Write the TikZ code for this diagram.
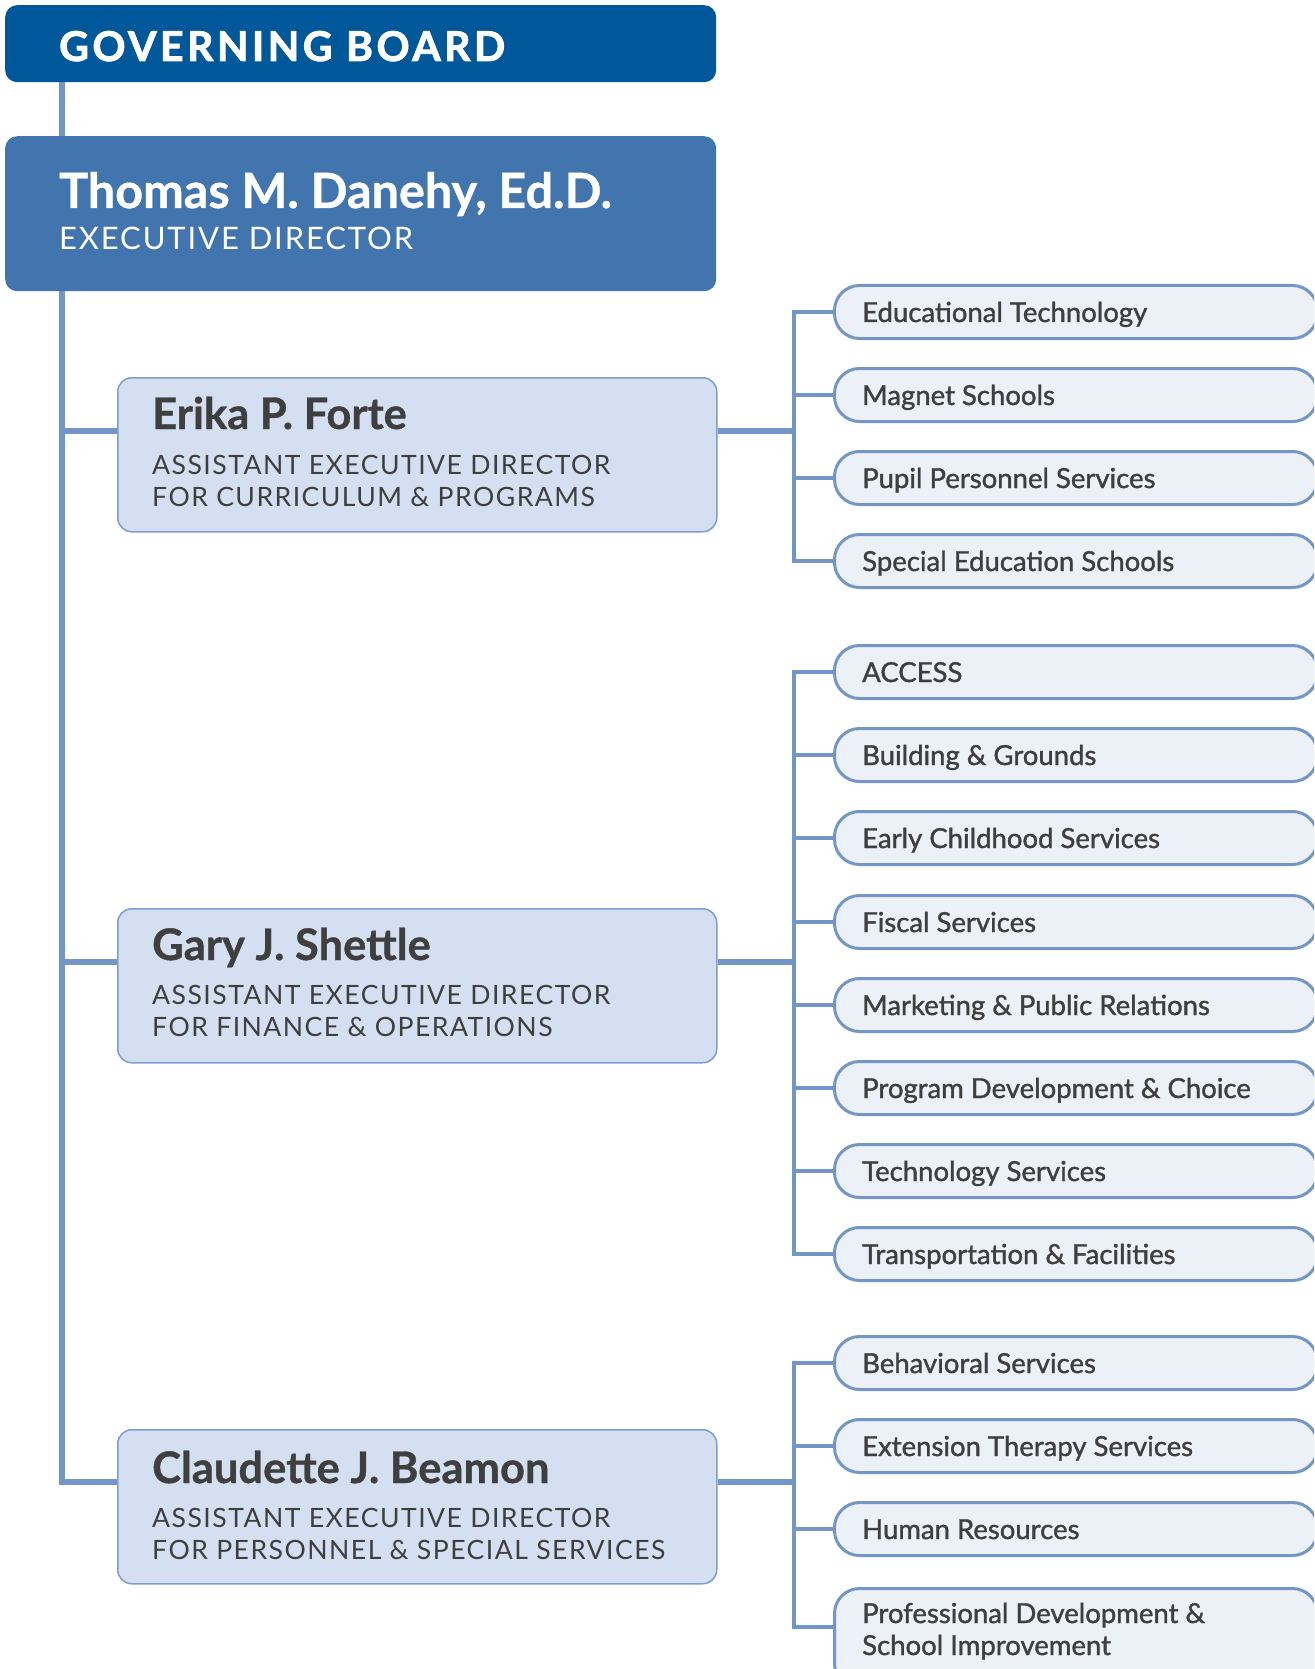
\documentclass[tikz,border=0pt]{standalone}
\usepackage{fontspec}
\setmainfont{Lato}
\newfontfamily\capsfont[LetterSpace=6]{Lato}
\newfontfamily\subfont[LetterSpace=5.5]{Lato}
\newfontfamily\semifont[FakeBold=1.3]{Lato}
\newfontfamily\heavyfont[BoldFeatures={FakeBold=0.8}]{Lato}
\newfontfamily\heavycaps[LetterSpace=8.5, BoldFeatures={FakeBold=2, LetterSpace=8.5}]{Lato}
\usetikzlibrary{backgrounds}
\definecolor{gbblue}{HTML}{00579A}
\definecolor{execblue}{HTML}{4275AD}
\definecolor{linec}{HTML}{7396C7}
\definecolor{namefill}{HTML}{D4E0F1}
\definecolor{nameborder}{HTML}{7E9DCC}
\definecolor{childfill}{HTML}{ECF1F8}
\definecolor{childborder}{HTML}{7396C7}
\definecolor{textdark}{HTML}{3F3F3F}
\tikzset{
  topbox/.style={rectangle, rounded corners=12pt, inner sep=0pt, anchor=north west},
  namebox/.style={rectangle, rounded corners=14pt, draw=nameborder, line width=1.5pt, fill=namefill, inner sep=0pt, anchor=north west, minimum width=599pt, minimum height=154pt},
  childbox/.style={rectangle, rounded corners=25pt, draw=childborder, line width=3pt, fill=childfill, inner sep=0pt, anchor=west, minimum width=483pt, minimum height=53pt},
  childtext/.style={anchor=base west, inner sep=0pt, text=textdark, font=\semifont\fontsize{27.5}{32}\selectfont},
  nametext/.style={anchor=base west, inner sep=0pt, text=textdark, font=\heavyfont\bfseries\fontsize{43.5}{50}\selectfont},
  subtext/.style={anchor=base west, inner sep=0pt, text=textdark, font=\subfont\fontsize{26.6}{32}\selectfont},
  trunk/.style={draw=linec, line width=5.5pt},
  branch/.style={draw=linec, line width=4.5pt},
}
\begin{document}
\begin{tikzpicture}[x=1pt,y=-1pt]
\useasboundingbox (0,0) rectangle (1314,1669);
\clip (0,0) rectangle (1314,1669);
% top boxes
\node[topbox, fill=gbblue, minimum width=711pt, minimum height=77pt] (gb) at (5,5) {};
\node[anchor=base west, inner sep=0pt, text=white, font=\heavycaps\bfseries\fontsize{41}{48}\selectfont] (gbt) at (59,61) {GOVERNING BOARD};
\node[topbox, fill=execblue, minimum width=711pt, minimum height=155pt] (exec) at (5,136) {};
\node[anchor=base west, inner sep=0pt, text=white, font=\heavyfont\bfseries\fontsize{48.5}{54}\selectfont] (execname) at (59,208) {Thomas M. Danehy, Ed.D.};
\node[anchor=base west, inner sep=0pt, text=white, font=\capsfont\fontsize{31}{36}\selectfont] (exectitle) at (59,250) {EXECUTIVE DIRECTOR};
% name boxes
\node[namebox] (erika) at (117,377) {};
\node[nametext] (erikan) at (152,429) {Erika P. Forte};
\node[subtext] (erikas1) at (152,474) {ASSISTANT EXECUTIVE DIRECTOR};
\node[subtext] (erikas2) at (152,506) {FOR CURRICULUM \& PROGRAMS};
\node[namebox] (gary) at (117,908) {};
\node[nametext] (garyn) at (152,960) {Gary J. Shettle};
\node[subtext] (garys1) at (152,1004) {ASSISTANT EXECUTIVE DIRECTOR};
\node[subtext] (garys2) at (152,1036) {FOR FINANCE \& OPERATIONS};
\node[namebox] (claud) at (117,1429) {};
\node[nametext] (claudn) at (152,1483) {Claudette J. Beamon};
\node[subtext] (clauds1) at (152,1527) {ASSISTANT EXECUTIVE DIRECTOR};
\node[subtext] (clauds2) at (152,1559) {FOR PERSONNEL \& SPECIAL SERVICES};
% children group 1
\foreach \i/\y/\t in {1/312/Educational Technology,2/395/Magnet Schools,3/478/Pupil Personnel Services,4/561/Special Education Schools}{
  \node[childbox] (a\i) at (833,\y) {};
  \node[childtext] (at\i) at (862,\y+10) {\t};
}
% children group 2
\foreach \i/\y/\t in {1/672/ACCESS,2/755/Building \& Grounds,3/838/Early Childhood Services,4/922/Fiscal Services,5/1005/Marketing \& Public Relations,6/1088/Program Development \& Choice,7/1171/Technology Services,8/1254/Transportation \& Facilities}{
  \node[childbox] (b\i) at (833,\y) {};
  \node[childtext] (bt\i) at (862,\y+10) {\t};
}
% children group 3
\foreach \i/\y/\t in {1/1363/Behavioral Services,2/1446/Extension Therapy Services,3/1529/Human Resources}{
  \node[childbox] (c\i) at (833,\y) {};
  \node[childtext] (ct\i) at (862,\y+10) {\t};
}
\node[childbox, anchor=north west, minimum height=100pt] (c4) at (833,1587) {};
\node[childtext] (ct4a) at (862,1623) {Professional Development \&};
\node[childtext] (ct4b) at (862,1655) {School Improvement};
% connectors
\coordinate (mtop) at (62,82);
\coordinate (busa) at (794,431);
\coordinate (busb) at (794,962);
\coordinate (busc) at (794,1482);
\coordinate (c4stub) at (833,1627);
\begin{pgfonlayer}{background}
\draw[trunk] (mtop) -- (mtop |- busc) -- (busc -| claud.west);
\draw[trunk] (mtop |- busa) -- (busa -| erika.west);
\draw[trunk] (mtop |- busb) -- (busb -| gary.west);
\draw[trunk] (busa -| erika.east) -- (busa);
\draw[trunk] (busb -| gary.east) -- (busb);
\draw[trunk] (busc -| claud.east) -- (busc);
\draw[branch] (a1.west) -| (busa) |- (a4.west);
\foreach \i in {2,3}{ \draw[branch] (busa |- a\i.west) -- (a\i.west); }
\draw[branch] (b1.west) -| (busb) |- (b8.west);
\foreach \i in {2,...,7}{ \draw[branch] (busb |- b\i.west) -- (b\i.west); }
\draw[branch] (c1.west) -| (busc) |- (c4stub);
\foreach \i in {2,3}{ \draw[branch] (busc |- c\i.west) -- (c\i.west); }
\end{pgfonlayer}
\end{tikzpicture}
\end{document}
